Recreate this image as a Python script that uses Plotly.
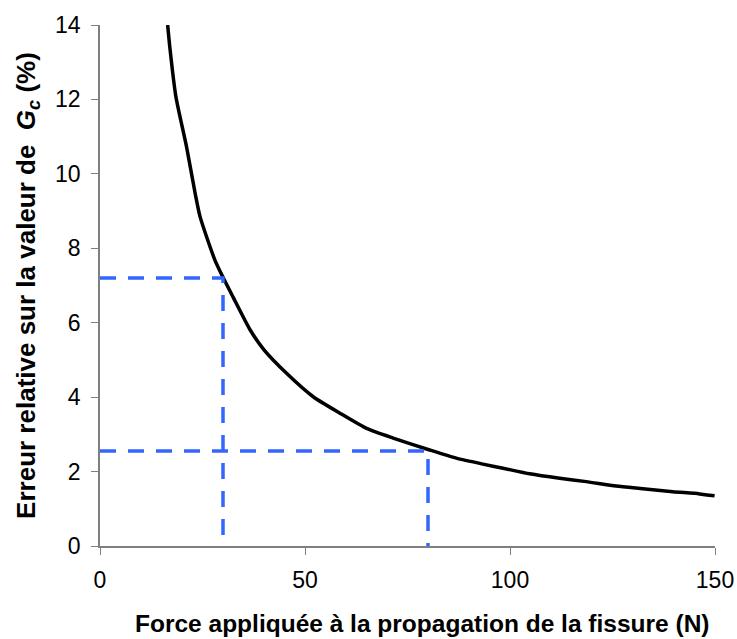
import plotly.graph_objects as go

# Relative error on G_c versus the force applied at crack propagation
force_n = [16.5, 17.1, 18.5, 21.1, 23.2, 24.4, 28.0, 30.0, 32.5, 36.6, 40.0,
           45.5, 52.0, 58.5, 65.0, 71.5, 80.4, 86.9, 93.4, 98.3, 104.8, 112.1,
           118.6, 125.9, 132.4, 139.7, 146.2, 149.9]
error_pct = [14.0, 13.33, 12.08, 10.73, 9.48, 8.85, 7.69, 7.22, 6.68, 5.81, 5.27,
             4.64, 4.01, 3.57, 3.16, 2.90, 2.58, 2.36, 2.20, 2.09, 1.94, 1.82,
             1.73, 1.61, 1.54, 1.46, 1.40, 1.35]

# Reading guides: (force, error) pairs marked with dashed lines
guide_force = [30, 80]
guide_error = [7.2, 2.55]

x_ticks = [0, 50, 100, 150]
y_ticks = [0, 2, 4, 6, 8, 10, 12, 14]

x_title = "<b>Force appliquée à la propagation de la fissure (N)</b>"
y_title = "<b>Erreur relative sur la valeur de  <i>G<sub>c</sub></i> (%)</b>"

fig = go.Figure()
fig.add_trace(go.Scatter(
    x=force_n, y=error_pct, mode="lines",
    line=dict(color="black", width=3.5, shape="spline", smoothing=0.6),
    showlegend=False, hoverinfo="skip"))

for gx, gy in zip(guide_force, guide_error):
    fig.add_trace(go.Scatter(
        x=[0, gx, gx], y=[gy, gy, 0], mode="lines",
        line=dict(color="#3366ff", width=3.5, dash="16px,12px"),
        showlegend=False, hoverinfo="skip"))

font_family = "Liberation Sans, Arial, sans-serif"
axis_common = dict(
    showline=True, linecolor="#7f7f7f", linewidth=1.5,
    ticks="outside", ticklen=7, tickcolor="#7f7f7f", tickwidth=1.2,
    showgrid=False, zeroline=False, automargin=False,
    ticklabelstandoff=6,
    tickfont=dict(family=font_family, size=23, color="black"),
)

fig.update_layout(
    width=737, height=639,
    margin=dict(l=100, r=22, t=25, b=93),
    plot_bgcolor="white", paper_bgcolor="white",
    xaxis=dict(range=[0, 150], tickvals=x_ticks, **axis_common),
    yaxis=dict(range=[0, 14], tickvals=y_ticks, **axis_common,
               title=dict(text=y_title,
                          font=dict(family=font_family, size=26, color="black"),
                          standoff=12)),
    annotations=[dict(
        text=x_title, xref="paper", yref="paper", x=0.5236, y=-0.148,
        xanchor="center", yanchor="middle", showarrow=False,
        font=dict(family=font_family, size=24.5, color="black"))],
)

fig.write_html("out.html")
